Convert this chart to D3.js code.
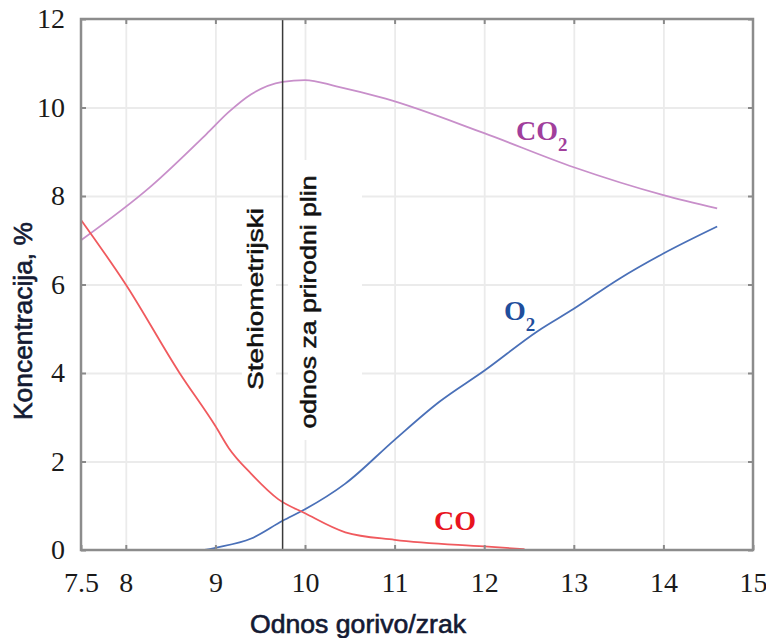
<!DOCTYPE html>
<html>
<head>
<meta charset="utf-8">
<script src="https://cdn.jsdelivr.net/npm/d3@7"></script>
<style>
  body { margin: 0; background: #fff; }
  svg { display: block; }
</style>
</head>
<body>
<svg id="chart"></svg>
<script>
// (odnos gorivo/zrak vs. koncentracija %)
const co2Points = [[7.5, 7.0], [8.27, 8.2], [8.9, 9.4], [9.15, 9.9], [9.4, 10.3], [9.75, 10.58],
                   [10.0, 10.62], [10.35, 10.48], [10.9, 10.2], [12, 9.42], [13, 8.65], [14, 8.02], [14.6, 7.72]];
const o2Points = [[8.88, 0], [9.0, 0.05], [9.4, 0.26], [9.75, 0.66], [10.0, 0.92], [10.45, 1.5], [11, 2.49],
                  [11.5, 3.35], [12, 4.05], [12.6, 4.95], [13, 5.45], [13.5, 6.12], [14, 6.7], [14.6, 7.31]];
const coPoints = [[7.5, 7.46], [8.0, 6.0], [8.6, 4.0], [9.0, 2.8], [9.15, 2.3], [9.4, 1.72], [9.7, 1.15],
                  [10.0, 0.83], [10.45, 0.4], [11, 0.23], [12, 0.08], [12.45, 0.02]];
const stoichRatio = 9.75;

const xTicks = [7.5, 8, 9, 10, 11, 12, 13, 14, 15];
const xGrid = [8, 9, 10, 11, 12, 13, 14];
const yTicks = [0, 2, 4, 6, 8, 10, 12];

const width = 766;
const height = 638;
const margin = {left: 81, right: 13, top: 19, bottom: 88};

const svg = d3.select('#chart')
              .attr('width', width)
              .attr('height', height);

const x = d3.scaleLinear().domain([7.5, 15]).range([margin.left, width - margin.right]);
const y = d3.scaleLinear().domain([0, 12]).range([height - margin.bottom, margin.top]);

const plotW = x(15) - x(7.5);
const plotH = y(0) - y(12);

// light grid
svg.append('g')
   .attr('transform', `translate(0, ${y(0)})`)
   .call(d3.axisBottom(x).tickValues(xGrid).tickSize(-plotH).tickFormat(''))
   .call(g => g.select('.domain').remove())
   .call(g => g.selectAll('line').attr('stroke', '#ebebeb').attr('stroke-width', 1.8));

svg.append('g')
   .attr('transform', `translate(${x(7.5)}, 0)`)
   .call(d3.axisLeft(y).tickValues(yTicks.slice(1, -1)).tickSize(-plotW).tickFormat(''))
   .call(g => g.select('.domain').remove())
   .call(g => g.selectAll('line').attr('stroke', '#ebebeb').attr('stroke-width', 1.8));

// white boxes behind the annotation
svg.append('rect')
   .attr('x', 242).attr('y', 200).attr('width', 34).attr('height', 200)
   .attr('fill', '#fff');
svg.append('rect')
   .attr('x', 288).attr('y', 160).attr('width', 74).attr('height', 280)
   .attr('fill', '#fff');

// curves
const line = d3.line().x(d => x(d[0])).y(d => y(d[1])).curve(d3.curveMonotoneX);

svg.append('path').datum(co2Points)
   .attr('d', line).attr('fill', 'none')
   .attr('stroke', '#c88fca').attr('stroke-width', 1.8);
svg.append('path').datum(o2Points)
   .attr('d', line).attr('fill', 'none')
   .attr('stroke', '#4a70b8').attr('stroke-width', 1.8);
svg.append('path').datum(coPoints)
   .attr('d', line).attr('fill', 'none')
   .attr('stroke', '#f05a5e').attr('stroke-width', 1.8);

// stoichiometric line
svg.append('line')
   .attr('x1', x(stoichRatio)).attr('x2', x(stoichRatio))
   .attr('y1', y(12)).attr('y2', y(0))
   .attr('stroke', '#3a3a3a').attr('stroke-width', 1.5);

// axes with inward ticks
const tickFont = g => g.selectAll('text')
                       .attr('font-family', '"Liberation Serif", "Times New Roman", serif')
                       .attr('font-size', 28)
                       .attr('fill', '#1a1a1a');

svg.append('g')
   .attr('transform', `translate(0, ${y(0)})`)
   .call(d3.axisBottom(x).tickValues(xTicks).tickSize(-5).tickPadding(22).tickFormat(d => d))
   .call(g => g.select('.domain').remove())
   .call(g => g.selectAll('line').attr('stroke', '#8a8a8a').attr('stroke-width', 2))
   .call(tickFont);

svg.append('g')
   .attr('transform', `translate(${x(7.5)}, 0)`)
   .call(d3.axisLeft(y).tickValues(yTicks).tickSize(-5).tickPadding(16))
   .call(g => g.select('.domain').remove())
   .call(g => g.selectAll('line').attr('stroke', '#8a8a8a').attr('stroke-width', 2))
   .call(tickFont);

svg.append('g')
   .attr('transform', `translate(0, ${y(12)})`)
   .call(d3.axisTop(x).tickValues(xGrid).tickSize(-5).tickFormat(''))
   .call(g => g.select('.domain').remove())
   .call(g => g.selectAll('line').attr('stroke', '#8a8a8a').attr('stroke-width', 2));

svg.append('g')
   .attr('transform', `translate(${x(15)}, 0)`)
   .call(d3.axisRight(y).tickValues(yTicks).tickSize(-5).tickFormat(''))
   .call(g => g.select('.domain').remove())
   .call(g => g.selectAll('line').attr('stroke', '#8a8a8a').attr('stroke-width', 2));

// frame
svg.append('rect')
   .attr('x', x(7.5)).attr('y', y(12))
   .attr('width', plotW).attr('height', plotH)
   .attr('fill', 'none')
   .attr('stroke', '#8c8c8c').attr('stroke-width', 2.5);

// annotation text
const sans = '"Liberation Sans", Arial, sans-serif';

svg.append('text')
   .attr('transform', 'translate(263, 299) rotate(-90)')
   .attr('text-anchor', 'middle')
   .attr('font-family', sans).attr('font-size', 22)
   .attr('textLength', 182).attr('lengthAdjust', 'spacingAndGlyphs')
   .attr('fill', '#111').attr('stroke', '#111').attr('stroke-width', 0.5)
   .text('Stehiometrijski');

svg.append('text')
   .attr('transform', 'translate(316, 302) rotate(-90)')
   .attr('text-anchor', 'middle')
   .attr('font-family', sans).attr('font-size', 22)
   .attr('textLength', 253).attr('lengthAdjust', 'spacingAndGlyphs')
   .attr('fill', '#111').attr('stroke', '#111').attr('stroke-width', 0.5)
   .text('odnos za prirodni plin');

// axis titles
svg.append('text')
   .attr('transform', 'translate(32, 321) rotate(-90)')
   .attr('text-anchor', 'middle')
   .attr('font-family', sans).attr('font-size', 25)
   .attr('textLength', 198).attr('lengthAdjust', 'spacingAndGlyphs')
   .attr('fill', '#141a33').attr('stroke', '#141a33').attr('stroke-width', 0.6)
   .text('Koncentracija, %');

svg.append('text')
   .attr('x', 358).attr('y', 633)
   .attr('text-anchor', 'middle')
   .attr('font-family', sans).attr('font-size', 25)
   .attr('textLength', 216).attr('lengthAdjust', 'spacingAndGlyphs')
   .attr('fill', '#141a33').attr('stroke', '#141a33').attr('stroke-width', 0.6)
   .text('Odnos gorivo/zrak');

// curve labels
const serifBold = '"Liberation Serif", "Times New Roman", serif';
const curveLabel = (px, py, main, sub, color) => {
  const t = svg.append('text')
               .attr('x', px).attr('y', py)
               .attr('font-family', serifBold).attr('font-weight', 'bold')
               .attr('font-size', 28).attr('fill', color);
  t.append('tspan').text(main);
  if (sub) {
    t.append('tspan').attr('dy', 11).attr('font-size', 19).text(sub);
  }
};

curveLabel(516, 140, 'CO', '2', '#a13f9c');
curveLabel(504, 320, 'O', '2', '#1f4e9c');
curveLabel(434, 530, 'CO', null, '#e8141e');
</script>
</body>
</html>
